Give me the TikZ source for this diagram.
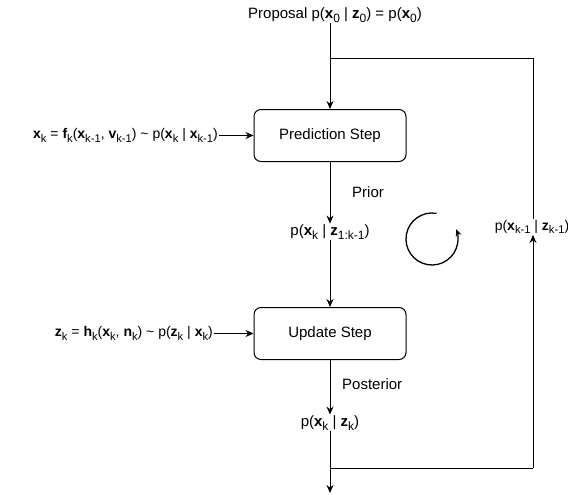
\documentclass[tikz,border=0pt]{standalone}
\usepackage{fontspec}
\setmainfont{Liberation Sans}
\usetikzlibrary{arrows.meta}
\newcommand{\bx}[1]{\textbf{#1}}
\newcommand{\sbs}[1]{\raisebox{-0.45ex}{\scalebox{0.8}{#1}}}
\begin{document}
\begin{tikzpicture}[x=1pt,y=-1pt,
  every node/.style={font=\fontsize{15}{17}\selectfont, inner sep=1pt},
  side/.style={font=\fontsize{14}{16}\selectfont},
  stepbox/.style={draw, rounded corners=7pt, minimum width=152pt, minimum height=52pt, line width=1pt},
  conn/.style={line width=1pt},
  arr/.style={conn, -{Stealth[length=8pt,width=7pt]}}]
\useasboundingbox (0,0) rectangle (568,495);
\node (prop) at (335,15) {Proposal p(\bx{x}\sbs{0} | \bx{z}\sbs{0}) = p(\bx{x}\sbs{0})};
\node[stepbox] (pred) at (330,135.5) {Prediction Step};
\node[stepbox] (upd) at (330,333.5) {Update Step};
\node[side, anchor=east] (f) at (219,135.5) {\bx{x}\sbs{k} = \bx{f}\sbs{k}(\bx{x}\sbs{k-1}, \bx{v}\sbs{k-1}) \textasciitilde{} p(\bx{x}\sbs{k} | \bx{x}\sbs{k-1})};
\node[side, anchor=east] (h) at (214,333.5) {\bx{z}\sbs{k} = \bx{h}\sbs{k}(\bx{x}\sbs{k}, \bx{n}\sbs{k}) \textasciitilde{} p(\bx{z}\sbs{k} | \bx{x}\sbs{k})};
\node (prior) at (330,232) {p(\bx{x}\sbs{k} | \bx{z}\sbs{1:k-1})};
\node (post) at (330,423) {p(\bx{x}\sbs{k} | \bx{z}\sbs{k})};
\node[side] (prev) at (532,227) {p(\bx{x}\sbs{k-1} | \bx{z}\sbs{k-1})};
\node[anchor=west] (lprior) at (351,192) {Prior};
\node[anchor=west] (lpost) at (341,384) {Posterior};
\coordinate (top) at (330,59);
\coordinate (topr) at (533,59);
\coordinate (bot) at (330,468);
\coordinate (botr) at (533,468);
\coordinate (end) at (330,493);
\draw[arr] (top |- prop.south) -- (pred);
\draw[conn] (top) -- (topr) -- (topr |- prev.north);
\draw[arr] (f) -- (pred);
\draw[arr] (h) -- (upd);
\draw[arr] (pred) -- (prior);
\draw[arr] (prior) -- (upd);
\draw[arr] (upd) -- (post);
\draw[arr] (post) -- (end);
\draw[conn] (bot) -- (botr);
\draw[arr] (botr) -- (botr |- prev.south);
\draw[line width=1.3pt, -{Stealth[length=7pt,width=6pt]}] (432,239) ++(-80:26) arc[start angle=-80, end angle=-382, radius=26];
\end{tikzpicture}
\end{document}
